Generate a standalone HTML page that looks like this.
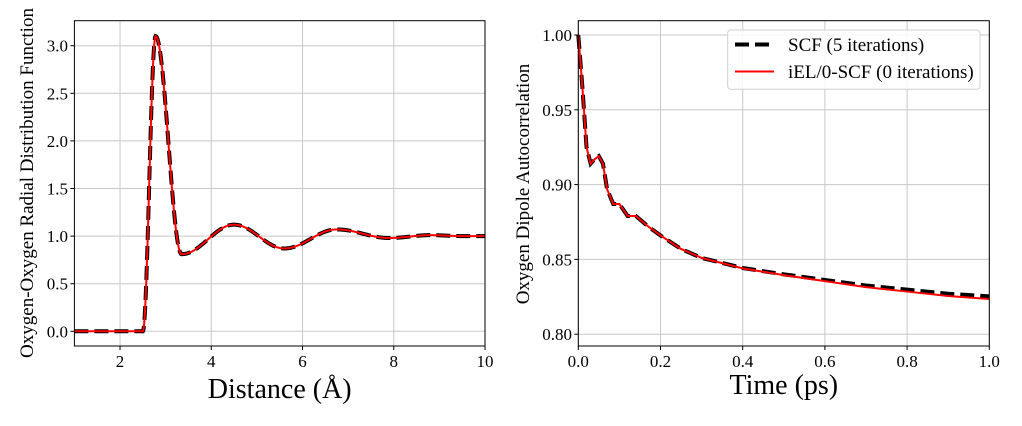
<!DOCTYPE html>
<html><head><meta charset="utf-8"><style>
html,body{margin:0;padding:0;background:#fff;}
svg{display:block;font-family:"Liberation Serif","DejaVu Serif",serif;}
</style></head><body>
<svg id="s" width="1022" height="426" viewBox="0 0 1022 426" xmlns="http://www.w3.org/2000/svg">
<g id="grid" stroke="#c8c8c8" stroke-width="1"></g>
<g id="curves" fill="none"></g>
<rect x="74.4" y="20.7" width="410.6" height="325.3" fill="none" stroke="#000" stroke-width="1"/>
<rect x="578.3" y="20.7" width="411" height="325.3" fill="none" stroke="#000" stroke-width="1"/>
<g id="ticks" font-size="17" fill="#000"></g>
<text x="279.7" y="398" font-size="28" text-anchor="middle">Distance (Å)</text>
<text x="783.8" y="394" font-size="28" text-anchor="middle">Time (ps)</text>
<text transform="translate(33,183) rotate(-90)" font-size="19" text-anchor="middle">Oxygen-Oxygen Radial Distribution Function</text>
<text transform="translate(529,184) rotate(-90)" font-size="19" text-anchor="middle">Oxygen Dipole Autocorrelation</text>
<rect x="727.7" y="30" width="252.3" height="59.3" rx="3" fill="#fff" fill-opacity="0.85" stroke="#d0d0d0"/>
<line x1="735" y1="44.5" x2="774" y2="44.5" stroke="#000" stroke-width="4" stroke-dasharray="14,6"/>
<line x1="735" y1="71.5" x2="774" y2="71.5" stroke="#f00" stroke-width="2"/>
<text x="788" y="51" font-size="19">SCF (5 iterations)</text>
<text x="788" y="78" font-size="19">iEL/0-SCF (0 iterations)</text>
</svg>
<script>
const NS="http://www.w3.org/2000/svg";
function el(p,t,a,txt){const e=document.createElementNS(NS,t);for(const k in a)e.setAttribute(k,a[k]);if(txt!==undefined)e.textContent=txt;document.getElementById(p).appendChild(e);}
const LX=r=>74.4+(r-1)*45.625, LY=g=>331.3-g*95.2;
const RX=t=>578.3+t*411, RY=v=>35+(1-v)*1496;
[2,4,6,8,10].forEach(v=>{el('grid','line',{x1:LX(v),x2:LX(v),y1:20.7,y2:346});el('ticks','text',{x:LX(v),y:367,'text-anchor':'middle'},String(v));el('ticks','line',{x1:LX(v),x2:LX(v),y1:346,y2:350,stroke:'#000'});});
[0,0.5,1,1.5,2,2.5,3].forEach(v=>{el('grid','line',{x1:74.4,x2:485,y1:LY(v),y2:LY(v)});el('ticks','text',{x:68,y:LY(v)+6,'text-anchor':'end'},v.toFixed(1));el('ticks','line',{x1:70.4,x2:74.4,y1:LY(v),y2:LY(v),stroke:'#000'});});
[0,0.2,0.4,0.6,0.8,1].forEach(v=>{el('grid','line',{x1:RX(v),x2:RX(v),y1:20.7,y2:346});el('ticks','text',{x:RX(v),y:367,'text-anchor':'middle'},v.toFixed(1));el('ticks','line',{x1:RX(v),x2:RX(v),y1:346,y2:350,stroke:'#000'});});
[0.8,0.85,0.9,0.95,1].forEach(v=>{el('grid','line',{x1:578.3,x2:989.3,y1:RY(v),y2:RY(v)});el('ticks','text',{x:572,y:RY(v)+6,'text-anchor':'end'},v.toFixed(2));el('ticks','line',{x1:574.3,x2:578.3,y1:RY(v),y2:RY(v),stroke:'#000'});});
const K=[[1,0],[2.5,0],[2.78,3.1],[3.35,0.81],[4.5,1.12],[5.6,0.87],[6.75,1.07],[7.9,0.98],[8.8,1.01],[9.5,1.0],[10,1.0]];
function g(r){for(let i=0;i<K.length-1;i++){const[a,ya]=K[i],[b,yb]=K[i+1];if(r<=b){const u=(r-a)/(b-a);const w=(1-Math.cos(Math.PI*u))/2;return ya+(yb-ya)*w;}}return 1;}
let p="";for(let r=1;r<=10.0001;r+=0.01){p+=(p?"L":"M")+LX(r).toFixed(2)+","+LY(g(r)).toFixed(2);}
el('curves','path',{d:p,stroke:'#000','stroke-width':4,'stroke-dasharray':'14,6'});
el('curves','path',{d:p,stroke:'#f00','stroke-width':2});
const R=[[0,1.0],[0.01,0.965],[0.02,0.925],[0.03,0.914],[0.04,0.917],[0.05,0.919],[0.06,0.914],[0.07,0.897],[0.085,0.887],[0.1,0.887],[0.12,0.879],[0.14,0.879],[0.17,0.872],[0.2,0.866],[0.25,0.857],[0.3,0.851],[0.4,0.844],[0.5,0.8395],[0.6,0.8355],[0.7,0.8315],[0.8,0.8285],[0.9,0.8255],[1.0,0.8235]];
function path(off){return R.map((q,i)=>(i?"L":"M")+RX(q[0]).toFixed(2)+","+RY(q[1]+off*Math.max(0,q[0]-0.3)/0.7).toFixed(2)).join("");}
el('curves','path',{d:path(0.0018),stroke:'#000','stroke-width':4,'stroke-dasharray':'14,6'});
el('curves','path',{d:path(0),stroke:'#f00','stroke-width':2});
</script>
</body></html>
